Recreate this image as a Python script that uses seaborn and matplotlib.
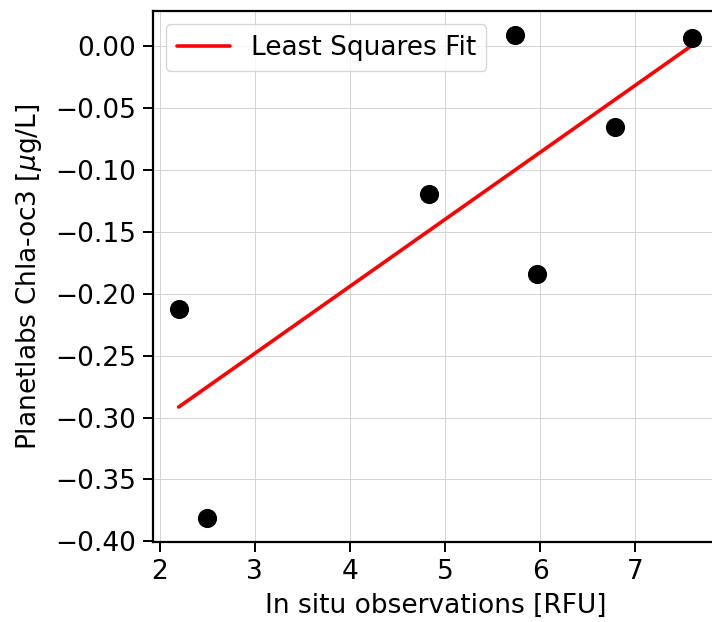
import numpy as np
import pandas as pd
import matplotlib
matplotlib.use('Agg')
import matplotlib.pyplot as plt
import seaborn as sns

# in situ vs satellite values
insitu_rfu = [2.2, 2.5, 4.83, 5.74, 5.97, 6.79, 7.6]
chla_oc3 = [-0.212, -0.381, -0.119, 0.009, -0.184, -0.065, 0.007]

df = pd.DataFrame({'x': insitu_rfu, 'y': chla_oc3})

# least squares fit
slope, intercept = np.polyfit(df['x'], df['y'], 1)
fit = pd.DataFrame({'x': [min(insitu_rfu), max(insitu_rfu)]})
fit['y'] = slope * fit['x'] + intercept

sns.set_style('ticks')
plt.rcParams['font.family'] = ['DejaVu Sans']
plt.rcParams['text.color'] = 'black'
plt.rcParams['axes.labelcolor'] = 'black'
plt.rcParams['xtick.color'] = 'black'
plt.rcParams['ytick.color'] = 'black'
plt.rcParams['axes.unicode_minus'] = True

fig = plt.figure(figsize=(7.12, 6.22), dpi=100)
ax = fig.add_axes([153 / 712, 80 / 622, 565 / 712, 531 / 622])

sns.lineplot(data=fit, x='x', y='y', color='red', linewidth=2.6, label='Least Squares Fit', ax=ax, zorder=2)
sns.scatterplot(data=df, x='x', y='y', color='black', s=190, edgecolor='black', linewidth=0, ax=ax, zorder=3)

ax.grid(True, color='#d3d3d3', linewidth=0.7)
ax.set_axisbelow(True)
ax.set_xticks([2, 3, 4, 5, 6, 7])
ax.set_yticks([-0.40, -0.35, -0.30, -0.25, -0.20, -0.15, -0.10, -0.05, 0.00])
ax.set_yticklabels(['\u22120.40', '\u22120.35', '\u22120.30', '\u22120.25', '\u22120.20',
                    '\u22120.15', '\u22120.10', '\u22120.05', '0.00'])
ax.tick_params(labelsize=19, length=7, width=1.4, direction='out', color='black', pad=5)
for sp in ax.spines.values():
    sp.set_linewidth(1.6)
    sp.set_color('black')
ax.set_xlabel('In situ observations [RFU]', fontsize=19, labelpad=6)
ax.set_ylabel(r'Planetlabs Chla-oc3 [$\mu$g/L]', fontsize=19, labelpad=8)
leg = ax.legend(loc='upper left', fontsize=19, framealpha=0.8)
leg.get_frame().set_edgecolor('#cccccc')

fig.savefig('out.png', dpi=100)
